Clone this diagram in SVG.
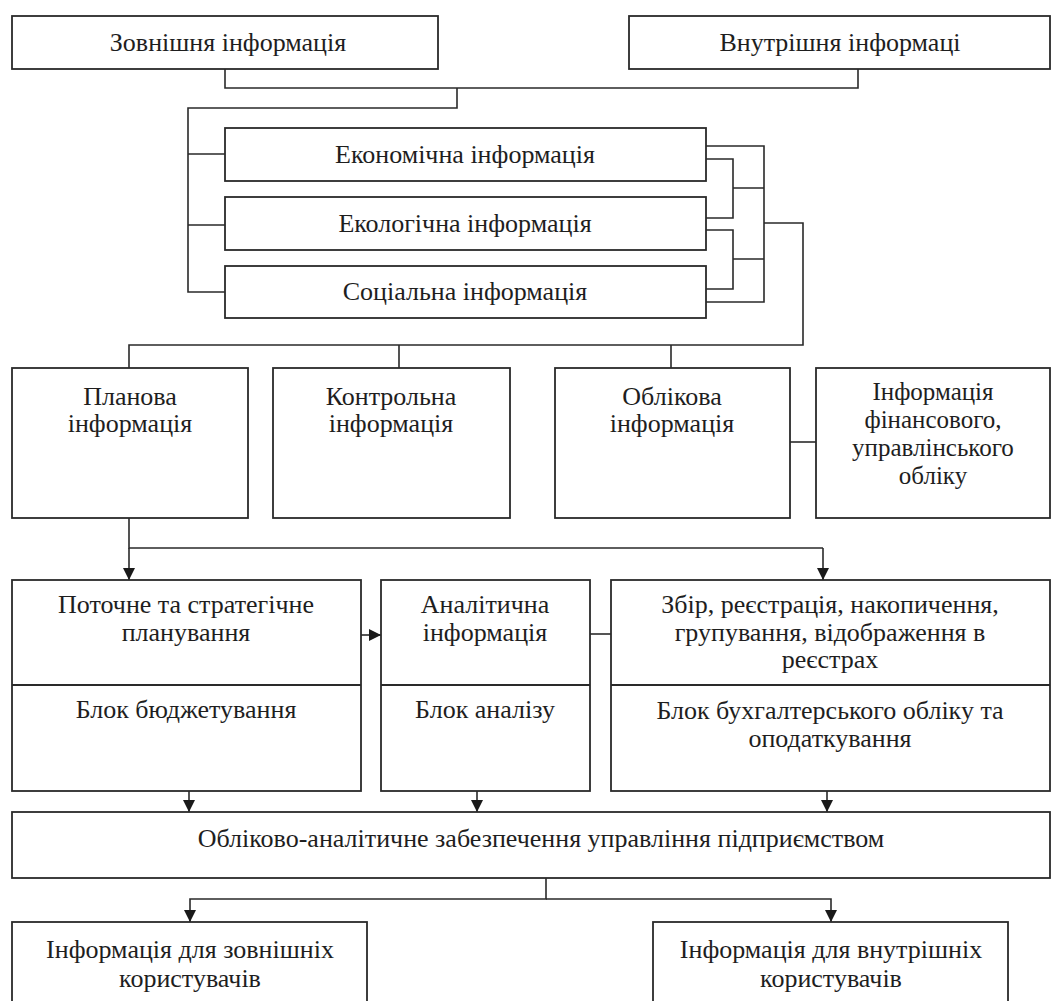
<svg xmlns="http://www.w3.org/2000/svg" width="1062" height="1001" viewBox="0 0 1062 1001">
<defs>
<marker id="ah" viewBox="0 0 12 12" refX="12" refY="6" markerWidth="12" markerHeight="12" markerUnits="userSpaceOnUse" orient="auto">
<path d="M0,0 L12,6 L0,12 z" fill="#1a1a1a"/>
</marker>
<style>
rect{fill:#fff;stroke:#2a2a2a;stroke-width:1.8}
.d{stroke:#2a2a2a;stroke-width:1.8}
text{font-family:"Liberation Serif","Times New Roman",serif;font-size:26px;fill:#1e1e1e;text-anchor:middle}
.s{font-size:25px}
#connectors path{fill:none;stroke:#2a2a2a;stroke-width:1.6}
</style>
</defs>
<rect x="0" y="0" width="1062" height="1001" style="fill:#fff;stroke:none"/>
<g id="connectors">
<path d="M225,69 V88 H858 V69"/>
<path d="M457,88 V108 H188 V292 H225"/>
<path d="M188,154 H225 M188,225 H225"/>
<path d="M706,146 H764 V302 H706"/>
<path d="M706,159 H733 V218 H706 M733,188 H764"/>
<path d="M706,230 H733 V289 H706 M733,259 H764"/>
<path d="M764,223 H803 V345 H129 V368 M399,345 V368 M671,345 V368"/>
<path d="M790,442 H816"/>
<path d="M129,518 V548 H823"/>
<path d="M129,548 V580" marker-end="url(#ah)"/>
<path d="M823,548 V580" marker-end="url(#ah)"/>
<path d="M361,635 H381" marker-end="url(#ah)"/>
<path d="M590,634 H611"/>
<path d="M189,791 V812" marker-end="url(#ah)"/>
<path d="M477,791 V812" marker-end="url(#ah)"/>
<path d="M827,791 V812" marker-end="url(#ah)"/>
<path d="M546,878 V899 H190 V922" marker-end="url(#ah)"/>
<path d="M546,899 H831 V922" marker-end="url(#ah)"/>
</g>
<g id="n-external"><rect x="12" y="16" width="426" height="53"/><text x="228" y="51">Зовнішня інформація</text></g>
<g id="n-internal"><rect x="629" y="16" width="421" height="53"/><text x="840" y="51">Внутрішня інформаці</text></g>
<g id="n-economic"><rect x="225" y="128" width="481" height="53"/><text x="465" y="163">Економічна інформація</text></g>
<g id="n-ecological"><rect x="225" y="197" width="481" height="53"/><text x="465" y="232">Екологічна інформація</text></g>
<g id="n-social"><rect x="225" y="266" width="481" height="52"/><text x="465" y="300">Соціальна інформація</text></g>
<g id="n-plan"><rect x="12" y="368" width="236" height="150"/><text x="130" y="405">Планова</text><text x="130" y="432">інформація</text></g>
<g id="n-control"><rect x="273" y="368" width="237" height="150"/><text x="391" y="405">Контрольна</text><text x="391" y="432">інформація</text></g>
<g id="n-account"><rect x="555" y="368" width="235" height="150"/><text x="672" y="405">Облікова</text><text x="672" y="432">інформація</text></g>
<g id="n-finmgmt"><rect x="816" y="368" width="234" height="150"/><text class="s" x="933" y="400">Інформація</text><text class="s" x="933" y="428">фінансового,</text><text class="s" x="933" y="456">управлінського</text><text class="s" x="933" y="484">обліку</text></g>
<g id="n-planning"><rect x="12" y="580" width="349" height="211"/><line class="d" x1="12" y1="685" x2="361" y2="685"/><text x="186" y="613">Поточне та стратегічне</text><text x="186" y="641">планування</text><text x="186" y="718">Блок бюджетування</text></g>
<g id="n-analytic"><rect x="381" y="580" width="209" height="211"/><line class="d" x1="381" y1="685" x2="590" y2="685"/><text x="485" y="613">Аналітична</text><text x="485" y="641">інформація</text><text x="485" y="718">Блок аналізу</text></g>
<g id="n-accounting"><rect x="611" y="580" width="439" height="211"/><line class="d" x1="611" y1="685" x2="1050" y2="685"/><text x="830" y="613">Збір, реєстрація, накопичення,</text><text x="830" y="641">групування, відображення в</text><text x="830" y="668">реєстрах</text><text x="830" y="719">Блок бухгалтерського обліку та</text><text x="830" y="747">оподаткування</text></g>
<g id="n-support"><rect x="12" y="812" width="1038" height="66"/><text x="541" y="847">Обліково-аналітичне забезпечення управління підприємством</text></g>
<g id="n-external-users"><rect x="12" y="922" width="355" height="100"/><text x="190" y="958">Інформація для зовнішніх</text><text x="190" y="987">користувачів</text></g>
<g id="n-internal-users"><rect x="653" y="922" width="355" height="100"/><text x="831" y="958">Інформація для внутрішніх</text><text x="831" y="987">користувачів</text></g>
</svg>
